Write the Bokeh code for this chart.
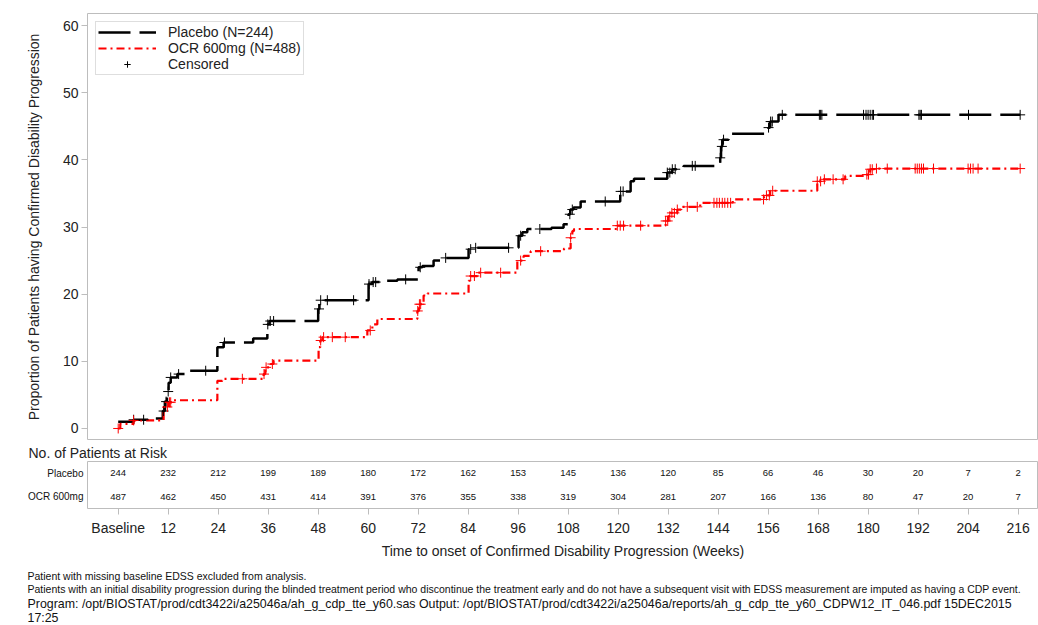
import numpy as np
from bokeh.plotting import figure
from bokeh.layouts import column
from bokeh.models import (Range1d, FactorRange, FixedTicker, Legend, LegendItem,
                          ColumnDataSource, Title)
from bokeh.core.properties import value
from bokeh.embed import file_html
from bokeh.resources import INLINE

FONT = "Liberation Sans"

# ---------------- data ----------------
placebo_t = [0, 3.7, 7.3, 10.7, 11.2, 11.7, 12.1, 12.6, 14.2, 16.1, 23.8, 25.3, 32.4, 35.8, 36.3,
             48.0, 48.3, 60.1, 61.0, 64.5, 67.0, 72.1, 73.0, 75.7, 78.1, 84.1, 85.0, 96.1, 97.0,
             98.2, 104.0, 106.9, 108.1, 108.5, 109.3, 111.0, 120.5, 123.0, 123.8, 131.8, 133.0,
             135.0, 135.7, 144.5, 144.7, 145.0, 146.5, 156.1, 156.5, 158.5, 216.5]
placebo_y = [1.0, 1.3, 1.5, 2.6, 4.0, 5.5, 6.8, 7.6, 8.1, 8.6, 12.1, 12.8, 13.4, 15.5, 16.0,
             17.8, 19.1, 21.5, 21.8, 22.0, 22.2, 24.0, 24.2, 25.0, 25.4, 26.7, 26.9, 28.7, 29.2,
             29.7, 29.9, 30.4, 31.9, 32.6, 32.9, 33.8, 35.3, 36.8, 37.2, 38.1, 38.6,
             38.8, 39.1, 40.3, 42.0, 43.0, 43.9, 44.8, 45.7, 46.7, 46.7]

ocr_t = [0, 0.5, 3.7, 10.9, 12.1, 13.0, 23.8, 25.0, 34.9, 35.3, 36.6, 37.3, 48.1, 48.5, 49.0,
         59.8, 61.0, 62.2, 71.8, 72.2, 73.3, 74.2, 84.1, 84.5, 86.2, 95.8, 97.3, 99.0, 107.0,
         108.6, 109.0, 109.4, 119.8, 131.4, 132.0, 132.6, 134.2, 135.4, 139.7, 147.5, 155.0,
         156.5, 167.8, 169.0, 174.5, 179.3, 180.5, 181.5, 216.5]
ocr_y = [0.0, 0.7, 1.2, 3.2, 3.9, 4.2, 7.1, 7.4, 8.1, 9.1, 9.6, 10.1, 12.1, 13.1, 13.6,
         14.6, 15.5, 16.3, 17.5, 18.5, 19.8, 20.1, 22.0, 22.7, 23.2, 25.0, 25.7, 26.4, 26.8,
         28.4, 29.4, 29.7, 30.2, 30.9, 31.6, 32.1, 32.6, 33.0, 33.6, 34.1, 34.7,
         35.4, 36.8, 37.1, 37.6, 37.8, 38.6, 38.7, 38.7]

placebo_censored = [3.7, 6.1, 10.9, 11.5, 12.0, 12.6, 14.5, 21.0, 25.5, 35.9, 36.5, 37.3, 48.2,
                    48.6, 50.2, 56.5, 60.2, 61.2, 61.8, 69.0, 72.5, 78.6, 84.6, 85.8, 93.7, 96.6,
                    101.2, 108.4, 109.0, 116.9, 120.6, 121.2, 131.8, 132.4, 133.0, 133.7, 137.8,
                    138.5, 144.5, 144.9, 145.3, 156.1, 156.6, 157.0, 159.4, 168.3, 168.6, 168.9,
                    178.9, 179.5, 180.0, 180.5, 181.0, 181.3, 192.2, 192.5, 192.8, 204.1, 216.5]
ocr_censored = [0.0, 3.7, 11.8, 12.3, 12.6, 29.8, 35.0, 35.5, 37.0, 48.6, 49.3, 51.4, 54.5, 60.5,
                71.9, 72.3, 72.6, 84.6, 85.5, 87.0, 91.8, 96.6, 101.4, 108.6, 119.8, 120.5, 121.3,
                125.4, 131.4, 131.9, 132.4, 132.9, 133.5, 134.2, 136.6, 139.0, 143.0, 143.7,
                144.3, 145.0, 145.6, 146.3, 147.0, 154.9, 155.6, 156.3, 157.1, 167.8, 168.6,
                169.5, 171.6, 174.0, 179.7, 180.1, 180.5, 181.0, 182.0, 184.6, 191.3, 191.8,
                192.3, 192.8, 193.3, 195.7, 204.0, 204.6, 205.2, 206.4, 216.5]

risk_weeks = [0, 12, 24, 36, 48, 60, 72, 84, 96, 108, 120, 132, 144, 156, 168, 180, 192, 204, 216]
risk_placebo = [244, 232, 212, 199, 189, 180, 172, 162, 153, 145, 136, 120, 85, 66, 46, 30, 20, 7, 2]
risk_ocr = [487, 462, 450, 431, 414, 391, 376, 355, 338, 319, 304, 281, 207, 166, 136, 80, 47, 20, 7]

y_ticks = [0, 10, 20, 30, 40, 50, 60]

footnote_small = [
    "Patient with missing baseline EDSS excluded from analysis.",
    "Patients with an initial disability progression during the blinded treatment period who "
    "discontinue the treatment early and do not have a subsequent visit with EDSS measurement "
    "are imputed as having a CDP event.",
]
footnote_program = [
    "Program: /opt/BIOSTAT/prod/cdt3422i/a25046a/ah_g_cdp_tte_y60.sas Output: "
    "/opt/BIOSTAT/prod/cdt3422i/a25046a/reports/ah_g_cdp_tte_y60_CDPW12_IT_046.pdf 15DEC2015",
    "17:25",
]


def on_curve(times, ts, ys):
    ts = np.asarray(ts)
    ys = np.asarray(ys)
    idx = np.searchsorted(ts, np.asarray(times), side="right") - 1
    return list(ys[np.clip(idx, 0, len(ys) - 1)])


GRAY = "#bdbdbd"
TXT = "#222222"

x_range = Range1d(-7.37, 220.9)

# ---------------- main KM plot ----------------
p = figure(frame_width=951, frame_height=427, x_range=x_range, y_range=Range1d(-1.79, 61.79),
           output_backend="svg", toolbar_location=None, x_axis_location=None,
           min_border_left=87, min_border_right=0, min_border_top=13, min_border_bottom=0)
p.outline_line_color = GRAY
p.grid.visible = False

r_pl = p.step(x=placebo_t, y=placebo_y, mode="after", line_color="black", line_width=2.5,
              line_dash="32 9")
r_ocr = p.step(x=ocr_t, y=ocr_y, mode="after", line_color="#ff0000", line_width=2.2,
               line_dash="8 4 2 4")
r_cpl = p.scatter(x=placebo_censored, y=on_curve(placebo_censored, placebo_t, placebo_y),
                  marker="cross", size=10, line_color="black", line_width=1)
r_cocr = p.scatter(x=ocr_censored, y=on_curve(ocr_censored, ocr_t, ocr_y),
                   marker="cross", size=10, line_color="#ff0000", line_width=1)

ya = p.yaxis[0]
ya.ticker = FixedTicker(ticks=y_ticks)
ya.axis_line_color = None
ya.major_tick_out = 6
ya.major_tick_in = 0
ya.major_tick_line_color = GRAY
ya.minor_tick_line_color = None
ya.major_label_text_font = FONT
ya.major_label_text_font_size = "14px"
ya.major_label_text_color = TXT
ya.major_label_standoff = 3
ya.axis_label = "Proportion of Patients having Confirmed Disability Progression"
ya.axis_label_text_font = FONT
ya.axis_label_text_font_size = "14px"
ya.axis_label_text_font_style = "normal"
ya.axis_label_text_color = TXT
ya.axis_label_standoff = 18

legend = Legend(items=[
    LegendItem(label="Placebo (N=244)", renderers=[r_pl]),
    LegendItem(label="OCR 600mg (N=488)", renderers=[r_ocr]),
    LegendItem(label="Censored", renderers=[r_cpl]),
], location="top_left")
legend.margin = 8
legend.padding = 2
legend.spacing = 0
legend.glyph_width = 58
legend.glyph_height = 16
legend.label_height = 16
legend.label_standoff = 12
legend.label_text_font = FONT
legend.label_text_font_size = "14px"
legend.label_text_color = TXT
legend.border_line_color = GRAY
legend.border_line_width = 1
legend.background_fill_alpha = 1.0
p.add_layout(legend)

# ---------------- at-risk table ----------------
t = figure(frame_width=951, frame_height=47, x_range=x_range,
           y_range=FactorRange("OCR 600mg", "Placebo"),
           output_backend="svg", toolbar_location=None,
           min_border_left=87, min_border_right=0, min_border_top=21, min_border_bottom=0)
t.outline_line_color = GRAY
t.grid.visible = False
t.title.text = "No. of Patients at Risk"
t.title.align = "left"
t.title.offset = -59
t.title.standoff = 2
t.title.text_font = FONT
t.title.text_font_size = "14px"
t.title.text_font_style = "normal"
t.title.text_color = TXT

src_pl = ColumnDataSource(dict(x=risk_weeks, y=["Placebo"] * len(risk_weeks),
                               n=[str(v) for v in risk_placebo]))
src_ocr = ColumnDataSource(dict(x=risk_weeks, y=["OCR 600mg"] * len(risk_weeks),
                                n=[str(v) for v in risk_ocr]))
for s in (src_pl, src_ocr):
    t.text(x="x", y="y", text="n", source=s, text_font=value(FONT), text_font_size="9.5px",
           text_align="center", text_baseline="middle", text_color="#111111")

tx = t.xaxis[0]
tx.ticker = FixedTicker(ticks=risk_weeks)
tx.major_label_overrides = {0: "Baseline"}
tx.axis_line_color = None
tx.major_tick_out = 6
tx.major_tick_in = 0
tx.major_tick_line_color = GRAY
tx.minor_tick_line_color = None
tx.major_label_text_font = FONT
tx.major_label_text_font_size = "14px"
tx.major_label_text_color = TXT
tx.major_label_standoff = 5
tx.axis_label = "Time to onset of Confirmed Disability Progression (Weeks)"
tx.axis_label_text_font = FONT
tx.axis_label_text_font_size = "14px"
tx.axis_label_text_font_style = "normal"
tx.axis_label_text_color = TXT
tx.axis_label_standoff = 4

ty = t.yaxis[0]
ty.axis_line_color = None
ty.major_tick_out = 0
ty.major_tick_in = 0
ty.major_label_text_font = FONT
ty.major_label_text_font_size = "10px"
ty.major_label_text_color = "#111111"
ty.major_label_standoff = 4

# ---------------- footnotes (titles below an empty spacer frame) ----------------
f = figure(frame_width=951, frame_height=8, x_range=Range1d(0, 1), y_range=Range1d(0, 1),
           output_backend="svg", toolbar_location=None,
           x_axis_location=None, y_axis_location=None,
           min_border_left=87, min_border_right=0, min_border_top=0, min_border_bottom=0)
f.outline_line_color = None
f.grid.visible = False
f.add_layout(Title(text="\n".join(footnote_small), align="left", offset=-60,
                   vertical_align="top", standoff=0, text_font=FONT, text_font_size="10.5px",
                   text_font_style="normal", text_color="#111111", text_line_height=1.1),
             "below")
f.add_layout(Title(text="\n".join(footnote_program), align="left", offset=-60,
                   vertical_align="top", standoff=0, text_font=FONT, text_font_size="12.4px",
                   text_font_style="normal", text_color="#111111", text_line_height=1.0),
             "below")

layout = column(p, t, f, spacing=0)
open("out.html", "w").write(file_html(layout, INLINE))
